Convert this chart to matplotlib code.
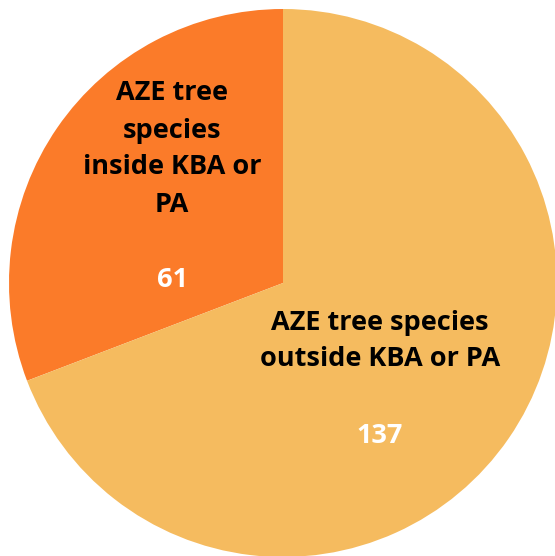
import matplotlib
matplotlib.use('agg')
import matplotlib.pyplot as plt

labels = ["AZE tree\nspecies\ninside KBA or\nPA", "AZE tree species\noutside KBA or PA"]
values = [61, 137]
colors = ["#FB7B29", "#F5BB5F"]

plt.rcParams["font.family"] = ["Open Sans", "DejaVu Sans"]

fig = plt.figure(figsize=(5.55, 5.56), dpi=100)
ax = fig.add_axes([0, 0, 1, 1])
ax.pie(values, colors=colors, startangle=90, counterclock=True, radius=1.0,
       wedgeprops=dict(linewidth=0))
ax.set_xlim(-283 / 274, 272 / 274)
ax.set_ylim(-273 / 274, 283 / 274)
ax.set_aspect("auto")
ax.axis("off")

fs = 19.5

# left slice label
ax.text(172 / 555, 1 - 149 / 556, labels[0], transform=ax.transAxes,
        ha="center", va="center", fontsize=fs, fontweight="bold", color="black", linespacing=1.55)
ax.text(172 / 555, 1 - 280 / 556, str(values[0]), transform=ax.transAxes,
        ha="center", va="center", fontsize=fs, fontweight="bold", color="white")

# right slice label
ax.text(380 / 555, 1 - 341 / 556, labels[1], transform=ax.transAxes,
        ha="center", va="center", fontsize=fs, fontweight="bold", color="black", linespacing=1.55)
ax.text(380 / 555, 1 - 436 / 556, str(values[1]), transform=ax.transAxes,
        ha="center", va="center", fontsize=fs, fontweight="bold", color="white")

fig.savefig("out.png", dpi=100)
